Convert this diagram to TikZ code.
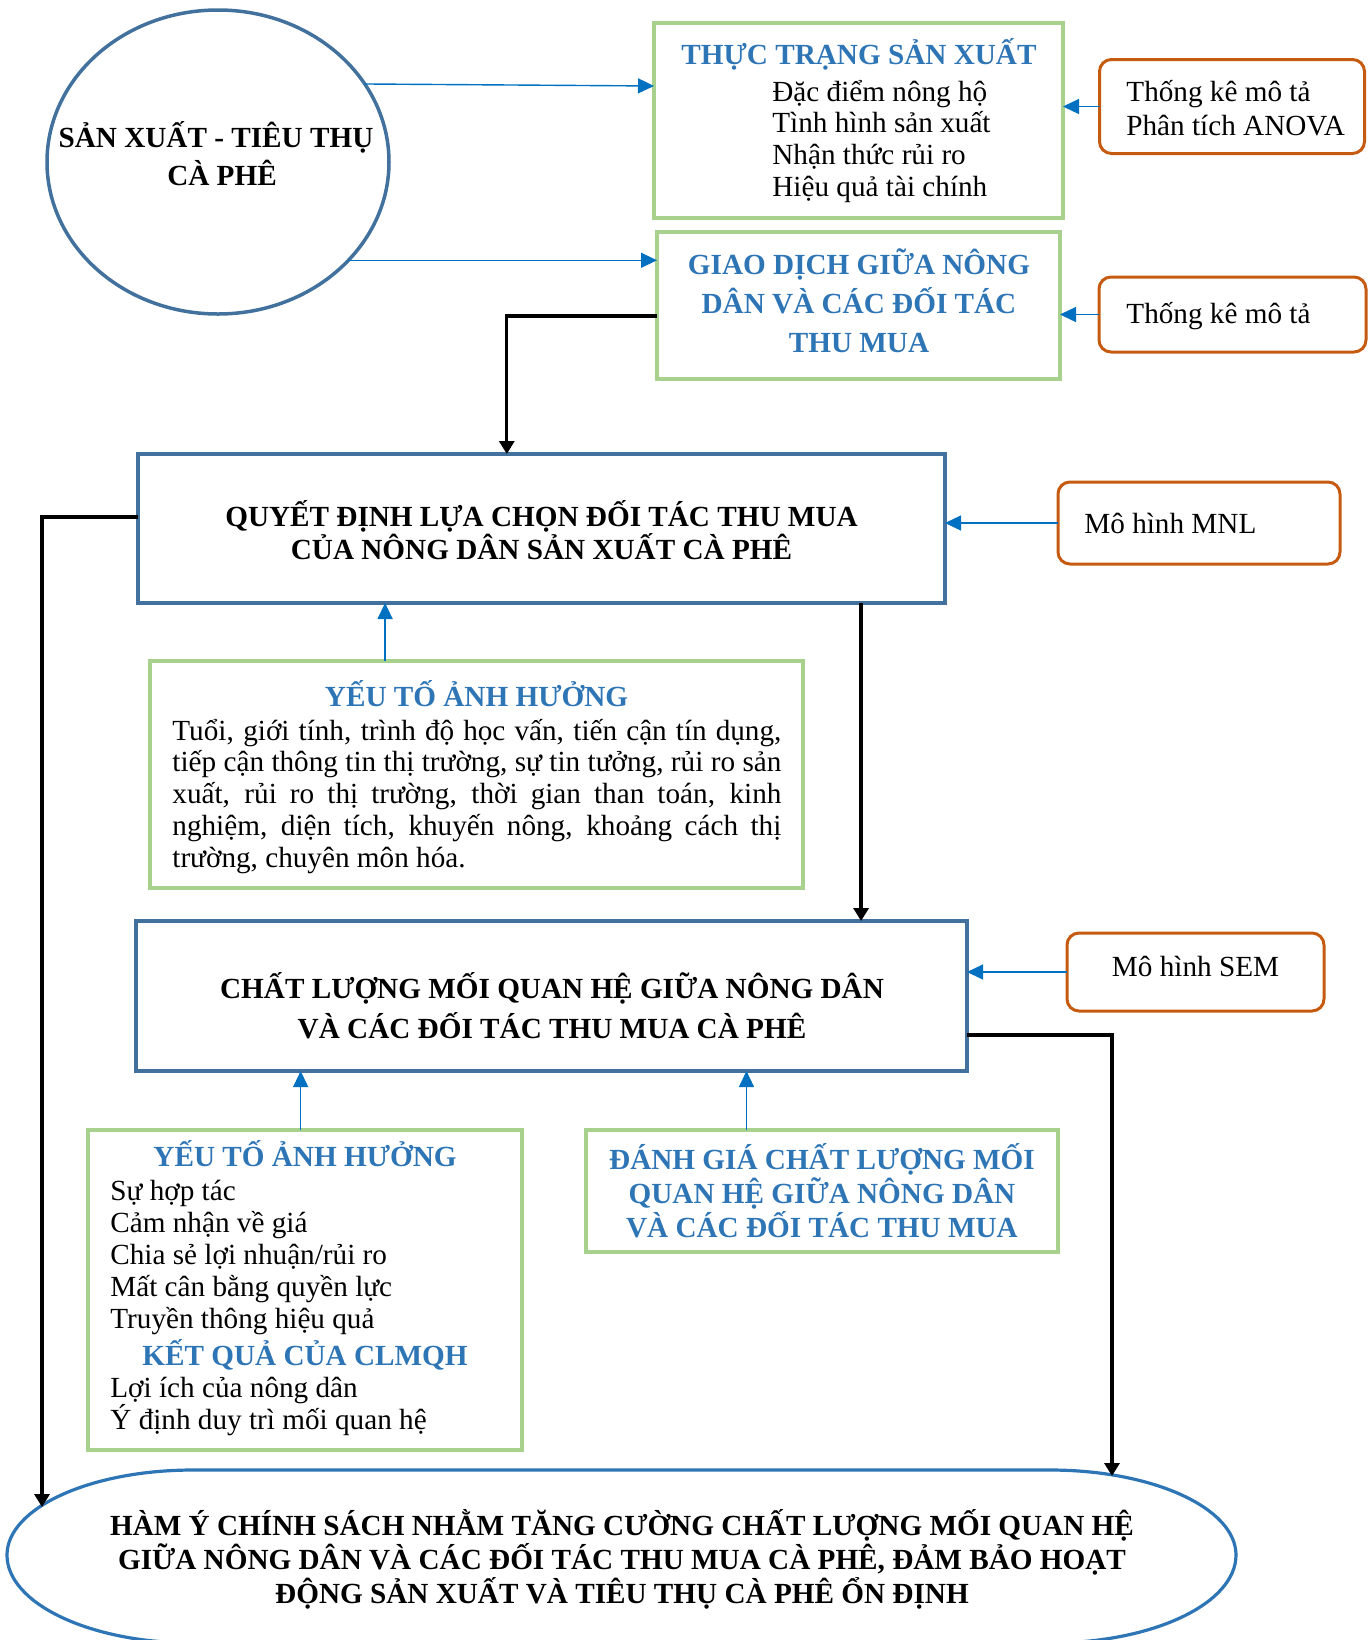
\documentclass[tikz,border=0pt]{standalone}
\usepackage{fontspec}
\setmainfont{Liberation Serif}
\usetikzlibrary{arrows.meta,calc,shapes.geometric}

\definecolor{boxgreen}{HTML}{A9D18E}
\definecolor{boxsteel}{HTML}{41719C}
\definecolor{headblue}{HTML}{2E75B6}
\definecolor{toolorange}{HTML}{C55A11}
\definecolor{linkblue}{HTML}{0070C0}
\definecolor{ovalblue}{HTML}{2E75B6}

% stacked lines with a fixed baseline distance; the block's baseline is its first line
\newcommand\rowsC[2]{\vtop{\baselineskip=#1\lineskiplimit=-\maxdimen\lineskip=0pt\halign{\hfil##\hfil\cr#2\crcr}}}
\newcommand\rowsL[2]{\vtop{\baselineskip=#1\lineskiplimit=-\maxdimen\lineskip=0pt\halign{##\hfil\cr#2\crcr}}}
\newcommand\justrows[3]{\vtop{\hsize=#1\baselineskip=#2\lineskiplimit=-\maxdimen\lineskip=0pt #3}}
\newcommand\fullline[1]{\hbox to\hsize{#1}}

\begin{document}
\begin{tikzpicture}[x=0.5pt,y=-0.5pt,
  txt/.style={inner sep=0pt,font=\fontsize{14.6pt}{17pt}\selectfont},
  boldtxt/.style={inner sep=0pt,font=\fontsize{14.6pt}{17pt}\selectfont\bfseries},
  headtxt/.style={inner sep=0pt,font=\fontsize{14.6pt}{17pt}\selectfont\bfseries,text=headblue},
  greenbox/.style={draw=boxgreen,line width=1.65pt,inner sep=0pt,outer sep=0pt},
  steelbox/.style={draw=boxsteel,line width=2pt,inner sep=0pt,outer sep=0pt},
  toolbox/.style={draw=toolorange,line width=1.5pt,rounded corners=6pt,inner sep=0pt,outer sep=0pt},
  linkarrow/.style={draw=linkblue,line width=0.7pt,-{Triangle[length=8pt,width=7.5pt]}},
  flowarrow/.style={draw=black,line width=1.65pt,-{Triangle[length=6.5pt,width=7.5pt]}}]

\useasboundingbox (0,0) rectangle (1371,1640);
\clip (0,0) rectangle (1371,1640);

% ---- top: production and consumption ----
\node[ellipse,draw=boxsteel,line width=1.75pt,minimum width=171pt,minimum height=152pt,inner sep=0pt,outer sep=0pt] (origin) at (218,162) {};
\node[boldtxt,anchor=base] (origintxt) at (222,147) {\rowsC{19pt}{SẢN XUẤT - TIÊU THỤ\kern6pt\cr CÀ PHÊ}};

\node[greenbox,minimum width=204.5pt,minimum height=97.5pt] (state) at (858.5,120.5) {};
\node[headtxt,anchor=base] (statehead) at (859,64) {THỰC TRẠNG SẢN XUẤT};
\node[txt,anchor=base west] (stateitems) at (772,101) {\rowsL{15.85pt}{Đặc điểm nông hộ\cr Tình hình sản xuất\cr Nhận thức rủi ro\cr Hiệu quả tài chính}};

\node[greenbox,minimum width=201.5pt,minimum height=73.5pt] (deal) at (858.5,305.5) {};
\node[headtxt,anchor=base] (dealtxt) at (859,274) {\rowsC{19.5pt}{GIAO DỊCH GIỮA NÔNG\cr DÂN VÀ CÁC ĐỐI TÁC\cr THU MUA}};

\node[toolbox,minimum width=132.5pt,minimum height=47pt] (statA) at (1232,106.5) {};
\node[txt,anchor=base west] (statAtxt) at (1126,101) {\rowsL{17pt}{Thống kê mô tả\cr Phân tích ANOVA}};

\node[toolbox,minimum width=133.5pt,minimum height=37.5pt] (statB) at (1232.5,314.5) {};
\node[txt,anchor=base west] (statBtxt) at (1126,323) {Thống kê mô tả};

% ---- partner choice ----
\node[steelbox,minimum width=403.5pt,minimum height=74.5pt] (choice) at (541.5,528.5) {};
\node[boldtxt,anchor=base] (choicetxt) at (541.5,526) {\rowsC{16.5pt}{QUYẾT ĐỊNH LỰA CHỌN ĐỐI TÁC THU MUA\cr CỦA NÔNG DÂN SẢN XUẤT CÀ PHÊ}};

\node[toolbox,minimum width=141pt,minimum height=41pt] (mnl) at (1199,523) {};
\node[txt,anchor=base west] (mnltxt) at (1084,533) {Mô hình MNL};

\node[greenbox,minimum width=326.5pt,minimum height=113.5pt] (factors1) at (476.5,774.5) {};
\node[headtxt,anchor=base] (factors1head) at (476.5,706) {YẾU TỐ ẢNH HƯỞNG};
\node[txt,anchor=base west] (factors1txt) at (172,740) {\justrows{304.5pt}{15.9pt}{%
  \fullline{Tuổi, giới tính, trình độ học vấn, tiến cận tín dụng,}%
  \fullline{tiếp cận thông tin thị trường, sự tin tưởng, rủi ro sản}%
  \fullline{xuất, rủi ro thị trường, thời gian than toán, kinh}%
  \fullline{nghiệm, diện tích, khuyến nông, khoảng cách thị}%
  \hbox{trường, chuyên môn hóa.}}};

% ---- relationship quality ----
\node[steelbox,minimum width=415.5pt,minimum height=75pt] (quality) at (551.5,996) {};
\node[boldtxt,anchor=base] (qualitytxt) at (552,998) {\rowsC{20pt}{CHẤT LƯỢNG MỐI QUAN HỆ GIỮA NÔNG DÂN\cr VÀ CÁC ĐỐI TÁC THU MUA CÀ PHÊ}};

\node[toolbox,minimum width=128.5pt,minimum height=39pt] (sem) at (1195.5,972) {};
\node[txt,anchor=base] (semtxt) at (1195.5,976) {Mô hình SEM};

\node[greenbox,minimum width=217pt,minimum height=160pt] (factors2) at (305,1290) {};
\node[headtxt,anchor=base] (factors2head) at (305,1166) {YẾU TỐ ẢNH HƯỞNG};
\node[txt,anchor=base west] (factors2items) at (110,1200) {\rowsL{16pt}{Sự hợp tác\cr Cảm nhận về giá\cr Chia sẻ lợi nhuận/rủi ro\cr Mất cân bằng quyền lực\cr Truyền thông hiệu quả}};
\node[headtxt,anchor=base] (outcomehead) at (305,1365) {KẾT QUẢ CỦA CLMQH};
\node[txt,anchor=base west] (outcomeitems) at (110,1397) {\rowsL{16pt}{Lợi ích của nông dân\cr Ý định duy trì mối quan hệ}};

\node[greenbox,minimum width=236pt,minimum height=61pt] (assess) at (822,1191) {};
\node[headtxt,anchor=base] (assesstxt) at (822,1169.5) {\rowsC{17pt}{ĐÁNH GIÁ CHẤT LƯỢNG MỐI\cr QUAN HỆ GIỮA NÔNG DÂN\cr VÀ CÁC ĐỐI TÁC THU MUA}};

% ---- policy implications (oval with elliptic ends, running off the page bottom) ----
\draw[draw=ovalblue,line width=1.6pt]
  (193,1470) -- (1050,1470)
  .. controls (1152.7,1470) and (1236,1508) .. (1236,1555)
  .. controls (1236,1603.6) and (1152.7,1643) .. (1050,1643)
  -- (193,1643)
  .. controls (90.3,1643) and (7,1603.6) .. (7,1555)
  .. controls (7,1508) and (90.3,1470) .. (193,1470) -- cycle;
\coordinate (ovalL) at (42,1507);
\coordinate (ovalR) at (1112,1476);
\node[boldtxt,anchor=base] (policy) at (622,1535) {\rowsC{17pt}{HÀM Ý CHÍNH SÁCH NHẰM TĂNG CƯỜNG CHẤT LƯỢNG MỐI QUAN HỆ\cr GIỮA NÔNG DÂN VÀ CÁC ĐỐI TÁC THU MUA CÀ PHÊ, ĐẢM BẢO HOẠT\cr ĐỘNG SẢN XUẤT VÀ TIÊU THỤ CÀ PHÊ ỔN ĐỊNH}};

% ---- connectors ----
\draw[linkarrow] (origin.28) -- ($(state.north west)!0.323!(state.south west)$);
\draw[linkarrow] (origin.-37) -- (origin.-37 -| deal.west);
\draw[linkarrow] (statA.west) -- (statA.west -| state.east);
\draw[linkarrow] (statB.west) -- (statB.west -| deal.east);
\draw[flowarrow] ($(deal.north west)!0.571!(deal.south west)$) -| ($(choice.north west)!0.457!(choice.north east)$);
\draw[linkarrow] (mnl.west) -- (mnl.west -| choice.east);
\draw[flowarrow] ($(choice.north west)!0.423!(choice.south west)$) -| (ovalL);
\draw[flowarrow] ($(choice.south west)!0.896!(choice.south east)$) coordinate (drop) -- (drop |- quality.north);
\draw[linkarrow] ($(factors1.north west)!0.36!(factors1.north east)$) coordinate (f1up) -- (f1up |- choice.south);
\draw[linkarrow] (sem.west) -- (sem.west -| quality.east);
\draw[flowarrow] ($(quality.north east)!0.76!(quality.south east)$) -| (ovalR);
\draw[linkarrow] ($(factors2.north west)!0.49!(factors2.north east)$) coordinate (f2up) -- (f2up |- quality.south);
\draw[linkarrow] ($(assess.north west)!0.34!(assess.north east)$) coordinate (asup) -- (asup |- quality.south);

\end{tikzpicture}
\end{document}
